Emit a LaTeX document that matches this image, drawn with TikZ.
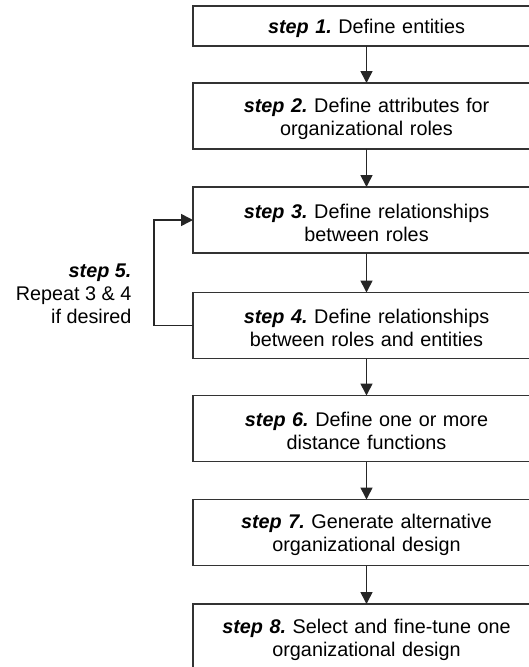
\documentclass[tikz,border=0pt]{standalone}
\usepackage{fontspec}
\setmainfont{Liberation Sans}
\usetikzlibrary{arrows.meta}
\usetikzlibrary{positioning, calc}

\newcommand{\stp}[1]{\textbf{\textit{step #1.}}}
\frenchspacing

\begin{document}
\begin{tikzpicture}[x=1pt, y=-1pt,
    block/.style={draw=black!80, line width=1.8pt, outer sep=0pt, minimum width=347pt, text width=330pt, align=center, font=\fontsize{19.8}{23}\selectfont, execute at begin node={\rule{0pt}{20pt}}},
    flow/.style={black!85, line width=1.6pt, -{Triangle[length=12pt, width=12pt]}},
    side/.style={align=right, font=\fontsize{19.8}{23}\selectfont}
]
    \path[use as bounding box, clip] (0, 0) rectangle (529, 667);

    \foreach \name/\ypos/\high/\txt in {
        n1/26/40/{\stp{1} Define entities},
        n2/116/66/{\stp{2} Define attributes for\\organizational roles},
        n3/220/66/{\stp{3} Define relationships\\between roles},
        n4/325.5/66/{\stp{4} Define relationships\\between roles and entities},
        n6/428.5/66/{\stp{6} Define one or more\\distance functions},
        n7/532.5/66/{\stp{7} Generate alternative\\organizational design},
        n8/637/66/{\stp{8} Select and fine-tune one\\organizational design}} {
        \node [block, minimum height=\high pt] (\name) at (366.5, \ypos) {\txt};
    }

    \draw[flow] (n1) -- (n2);
    \draw[flow] (n2) -- (n3);
    \draw[flow] (n3) -- (n4);
    \draw[flow] (n4) -- (n6);
    \draw[flow] (n6) -- (n7);
    \draw[flow] (n7) -- (n8);

    % repeat loop
    \draw[flow] (n4.west) -- ++(-39, 0) coordinate (c0) |- (n3.west);
    \node[side, anchor=east] (n5) at (135, 294) {\stp{5}\\Repeat 3 \& 4\\if desired};

\end{tikzpicture}
\end{document}
